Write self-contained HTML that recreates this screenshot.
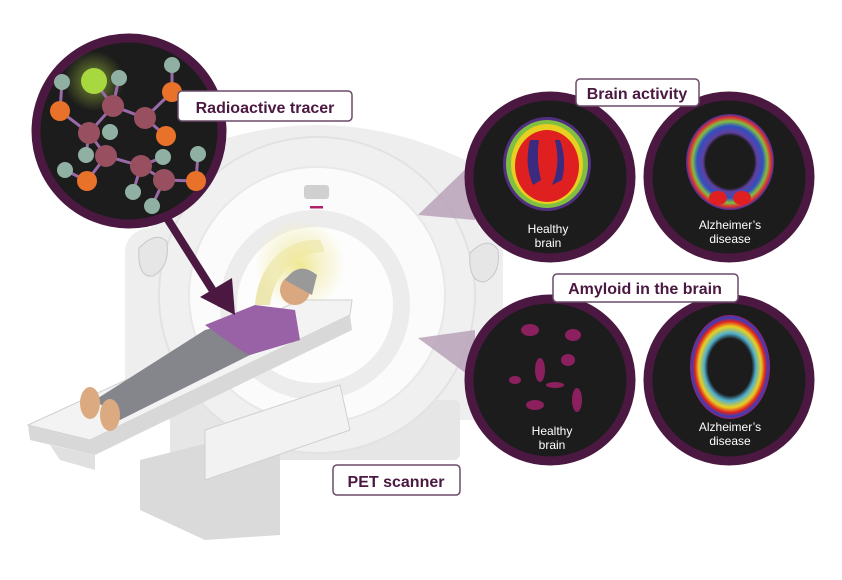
<!DOCTYPE html>
<html><head><meta charset="utf-8"><style>
body{margin:0;background:#fff}
svg{display:block}
text{font-family:"Liberation Sans",sans-serif}
</style></head><body>
<svg width="842" height="580" viewBox="0 0 842 580">
<defs>
<radialGradient id="glow" cx="0.5" cy="0.5" r="0.5"><stop offset="0" stop-color="#f0e890"/><stop offset="0.6" stop-color="#f4efc0" stop-opacity="0.6"/><stop offset="1" stop-color="#f4efb0" stop-opacity="0"/></radialGradient>
<radialGradient id="gg" cx="0.5" cy="0.5" r="0.5"><stop offset="0" stop-color="#b8e040" stop-opacity="0.6"/><stop offset="1" stop-color="#b8e040" stop-opacity="0"/></radialGradient>
<radialGradient id="ab" cx="0.5" cy="0.5" r="0.5"><stop offset="0.55" stop-color="#1c1c1c"/><stop offset="0.62" stop-color="#6040a0"/><stop offset="0.75" stop-color="#3050c0"/><stop offset="0.85" stop-color="#80c040"/><stop offset="0.93" stop-color="#e03030"/><stop offset="1" stop-color="#4030a0"/></radialGradient>
<radialGradient id="am" cx="0.5" cy="0.5" r="0.5"><stop offset="0.55" stop-color="#1c1c1c"/><stop offset="0.65" stop-color="#50b0d0"/><stop offset="0.78" stop-color="#e8d020"/><stop offset="0.88" stop-color="#e02020"/><stop offset="0.95" stop-color="#3040c0"/><stop offset="1" stop-color="#a0206a"/></radialGradient>
</defs>
<!-- scanner gantry -->
<g>
<path d="M125 250 Q128 230 150 228 L480 228 Q500 230 503 250 L503 420 L125 420 Z" fill="#eeeeee"/>
<path d="M150 230 L170 160 Q317 90 465 160 L480 230 Z" fill="#eeeeee"/>
<rect x="170" y="400" width="290" height="60" rx="6" fill="#e6e6e6"/>
<circle cx="317" cy="295" r="158" fill="#f0f0f0" stroke="#e2e2e2" stroke-width="2"/>
<circle cx="317" cy="295" r="128" fill="#fbfbfb" stroke="#e8e8e8" stroke-width="2"/>
<circle cx="315" cy="305" r="95" fill="#ececec"/>
<circle cx="315" cy="305" r="78" fill="#fdfdfd"/>
<path d="M255 305 A60 70 0 0 1 320 240 L325 252 A55 60 0 0 0 270 305Z" fill="#ece6b0"/>
<circle cx="300" cy="265" r="45" fill="url(#glow)"/>
<rect x="304" y="185" width="25" height="14" rx="3" fill="#d0d0d0"/>
<rect x="310" y="206" width="13" height="2.5" fill="#b0206a"/>
<path d="M139 248 q18 -18 28 -6 q3 25 -14 34 q-16 2 -14 -28Z" fill="#e6e6e6" stroke="#c8c8c8"/>
<path d="M470 253 q18 -18 28 -3 q3 25 -14 32 q-16 0 -14 -29Z" fill="#e6e6e6" stroke="#c8c8c8"/>
</g>
<!-- table -->
<g>
<path d="M140 460 L220 440 L280 440 L280 535 L205 540 L140 510 Z" fill="#dadada"/>
<path d="M205 430 L340 385 L350 430 L205 480 Z" fill="#f2f2f2" stroke="#d0d0d0"/>
<path d="M28 425 L300 300 L352 300 L350 315 L90 440 Z" fill="#f3f3f3" stroke="#d0d0d0"/>
<path d="M28 425 L90 440 L350 315 L352 330 L95 455 L30 440 Z" fill="#d8d8d8"/>
<path d="M50 445 L95 455 L95 470 L60 460Z" fill="#e0e0e0"/>
</g>
<!-- patient -->
<g>
<path d="M95 400 L205 330 L240 320 L260 350 L120 420 Z" fill="#85858c"/>
<path d="M205 325 L255 305 L295 310 L300 340 L250 355 L240 350 Z" fill="#9a62a6"/>
<circle cx="295" cy="290" r="15" fill="#d9a880"/>
<path d="M285 280 q14 -20 32 -5 l-5 20 Z" fill="#999"/>
<ellipse cx="90" cy="403" rx="10" ry="16" fill="#dcaa80"/>
<ellipse cx="110" cy="415" rx="10" ry="16" fill="#dcaa80"/>
</g>
<!-- cones -->
<path d="M418 215 L475 160 L475 220 Z" fill="#b8a3b8" opacity="0.85"/>
<path d="M418 338 L475 330 L475 380 Z" fill="#b8a3b8" opacity="0.85"/>
<!-- molecule circle -->
<g>
<path d="M165 215 L222 305" stroke="#4a1840" stroke-width="8"/>
<path d="M200 297 L235 315 L232 278Z" fill="#4a1840"/>
<circle cx="129" cy="131" r="93" fill="#1c1c1c" stroke="#4a1840" stroke-width="9"/>
<circle cx="94" cy="81" r="30" fill="url(#gg)"/>
<g stroke="#9a6aa8" stroke-width="3">
<line x1="94" y1="81" x2="113" y2="106"/><line x1="119" y1="78" x2="113" y2="106"/><line x1="113" y1="106" x2="145" y2="118"/><line x1="113" y1="106" x2="89" y2="133"/>
<line x1="145" y1="118" x2="172" y2="92"/><line x1="172" y1="65" x2="172" y2="92"/><line x1="145" y1="118" x2="166" y2="136"/>
<line x1="89" y1="133" x2="60" y2="111"/><line x1="60" y1="111" x2="62" y2="82"/><line x1="89" y1="133" x2="106" y2="156"/><line x1="89" y1="133" x2="86" y2="155"/>
<line x1="106" y1="156" x2="141" y2="166"/><line x1="106" y1="156" x2="87" y2="181"/><line x1="87" y1="181" x2="65" y2="170"/>
<line x1="141" y1="166" x2="164" y2="180"/><line x1="141" y1="166" x2="163" y2="157"/><line x1="141" y1="166" x2="133" y2="192"/><line x1="164" y1="180" x2="196" y2="181"/><line x1="164" y1="180" x2="152" y2="206"/><line x1="196" y1="181" x2="198" y2="154"/>
</g>
<circle cx="94" cy="81" r="13" fill="#a8d840"/>
<g fill="#985060"><circle cx="113" cy="106" r="11"/><circle cx="145" cy="118" r="11"/><circle cx="89" cy="133" r="11"/><circle cx="106" cy="156" r="11"/><circle cx="141" cy="166" r="11"/><circle cx="164" cy="180" r="11"/></g>
<g fill="#e8722a"><circle cx="60" cy="111" r="10"/><circle cx="172" cy="92" r="10"/><circle cx="166" cy="136" r="10"/><circle cx="87" cy="181" r="10"/><circle cx="196" cy="181" r="10"/></g>
<g fill="#8fb0a2"><circle cx="62" cy="82" r="8"/><circle cx="119" cy="78" r="8"/><circle cx="172" cy="65" r="8"/><circle cx="110" cy="132" r="8"/><circle cx="86" cy="155" r="8"/><circle cx="65" cy="170" r="8"/><circle cx="163" cy="157" r="8"/><circle cx="133" cy="192" r="8"/><circle cx="152" cy="206" r="8"/><circle cx="198" cy="154" r="8"/></g>
</g>
<!-- brain circles -->
<g>
<circle cx="550" cy="177" r="81" fill="#1c1c1c" stroke="#4a1840" stroke-width="9"/>
<ellipse cx="547" cy="164" rx="44" ry="47" fill="#503080"/>
<ellipse cx="547" cy="164" rx="41" ry="44" fill="#80c040"/>
<ellipse cx="547" cy="164" rx="36" ry="40" fill="#e8d020"/>
<ellipse cx="547" cy="166" rx="32" ry="36" fill="#e02020"/>
<path d="M530 140 q-6 25 3 45 l8 -5 q-5 -20 -2 -40Z M555 140 q6 25 -3 45 l10 -5 q5 -20 -2 -40Z" fill="#3a2a80"/>
<text x="548" y="233" fill="#fff" font-size="12" text-anchor="middle">Healthy</text>
<text x="548" y="247" fill="#fff" font-size="12" text-anchor="middle">brain</text>
</g>
<g>
<circle cx="729" cy="177" r="81" fill="#1c1c1c" stroke="#4a1840" stroke-width="9"/>
<ellipse cx="730" cy="162" rx="44" ry="48" fill="url(#ab)"/>
<ellipse cx="718" cy="198" rx="9" ry="7" fill="#e02020"/><ellipse cx="742" cy="198" rx="9" ry="7" fill="#e02020"/>
<text x="730" y="229" fill="#fff" font-size="12" text-anchor="middle">Alzheimer’s</text>
<text x="730" y="243" fill="#fff" font-size="12" text-anchor="middle">disease</text>
</g>
<g>
<circle cx="550" cy="380" r="81" fill="#1c1c1c" stroke="#4a1840" stroke-width="9"/>
<g fill="#a0206a" opacity="0.85"><ellipse cx="530" cy="330" rx="9" ry="6"/><ellipse cx="573" cy="335" rx="8" ry="6"/><ellipse cx="540" cy="370" rx="5" ry="12"/><ellipse cx="568" cy="360" rx="7" ry="6"/><ellipse cx="535" cy="405" rx="9" ry="5"/><ellipse cx="577" cy="400" rx="5" ry="12"/><ellipse cx="515" cy="380" rx="6" ry="4"/><ellipse cx="555" cy="385" rx="9" ry="3"/></g>
<text x="552" y="435" fill="#fff" font-size="12" text-anchor="middle">Healthy</text>
<text x="552" y="449" fill="#fff" font-size="12" text-anchor="middle">brain</text>
</g>
<g>
<circle cx="729" cy="380" r="81" fill="#1c1c1c" stroke="#4a1840" stroke-width="9"/>
<ellipse cx="730" cy="367" rx="40" ry="52" fill="url(#am)"/>
<text x="730" y="431" fill="#fff" font-size="12" text-anchor="middle">Alzheimer’s</text>
<text x="730" y="445" fill="#fff" font-size="12" text-anchor="middle">disease</text>
</g>
<!-- labels -->
<g>
<rect x="178" y="91" width="174" height="30" rx="4" fill="#fff" stroke="#6a4a68" stroke-width="1.5"/>
<text x="265" y="113" font-size="16" font-weight="bold" fill="#4a1840" text-anchor="middle">Radioactive tracer</text>
</g>
<g>
<rect x="576" y="79" width="123" height="27" rx="4" fill="#fff" stroke="#6a4a68" stroke-width="1.5"/>
<text x="637" y="99" font-size="16" font-weight="bold" fill="#4a1840" text-anchor="middle">Brain activity</text>
</g>
<g>
<rect x="553" y="274" width="185" height="28" rx="4" fill="#fff" stroke="#6a4a68" stroke-width="1.5"/>
<text x="645" y="294" font-size="16" font-weight="bold" fill="#4a1840" text-anchor="middle">Amyloid in the brain</text>
</g>
<g>
<rect x="333" y="465" width="127" height="30" rx="4" fill="#fff" stroke="#6a4a68" stroke-width="1.5"/>
<text x="396" y="487" font-size="16" font-weight="bold" fill="#4a1840" text-anchor="middle">PET scanner</text>
</g>
</svg>
</body></html>
